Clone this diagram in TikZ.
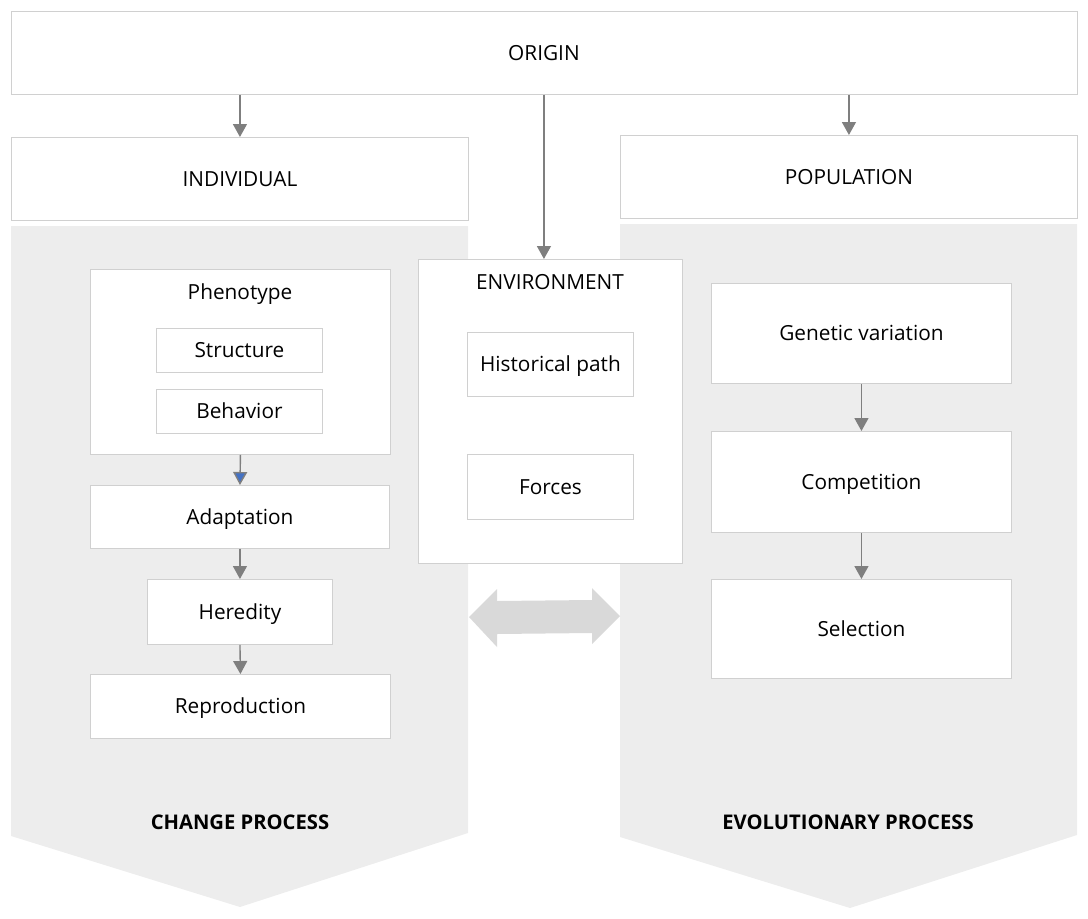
\documentclass[tikz,border=0pt]{standalone}
\usepackage{fontspec}
\setmainfont{Open Sans}
\usetikzlibrary{arrows.meta}
\definecolor{panelgray}{HTML}{EDEDED}
\definecolor{bordergray}{HTML}{D0D0D0}
\definecolor{arrowgray}{HTML}{7F7F7F}
\definecolor{dblgray}{HTML}{D9D9D9}
\definecolor{arrowblue}{HTML}{4472C4}
\tikzset{
  box/.style={draw=bordergray, fill=white, line width=0.9pt, inner sep=0pt, anchor=north west, text height=14.8pt, text depth=0pt, font=\fontsize{20.8}{24}\selectfont},
  txt/.style={inner sep=0pt, text height=14.8pt, text depth=0pt, font=\fontsize{20.8}{24}\selectfont},
  boldtxt/.style={inner sep=0pt, text height=14.4pt, text depth=0pt, font=\fontsize{20.2}{24}\selectfont\bfseries},
  arr/.style={draw=arrowgray, line width=1.4pt, -{Triangle[width=14pt,length=13pt]}},
  bluearr/.style={draw=arrowgray, line width=1.4pt, -{Triangle[width=14pt,length=13pt,fill=arrowblue]}},
  panel/.style={fill=panelgray, draw=none},
  dbl/.style={fill=dblgray, draw=none}
}
\begin{document}
\begin{tikzpicture}[x=1pt,y=-1pt]
\useasboundingbox (0,0) rectangle (1088,919);
% gray chevron panels
\fill[panel] (11,226) -- (468,226) -- (468,833) -- (240,907) -- (11,836) -- cycle;
\fill[panel] (620,224) -- (1077,224) -- (1077,835) -- (850,908) -- (620,837) -- cycle;
% top boxes
\node[box, minimum width=1066pt, minimum height=83pt] (origin) at (10.5,11) {ORIGIN};
\node[box, minimum width=457pt, minimum height=83pt] (indiv) at (11,137) {INDIVIDUAL};
\node[box, minimum width=457pt, minimum height=83pt] (popul) at (620,135) {POPULATION};
% environment
\node[box, minimum width=264pt, minimum height=304pt] (env) at (418,259) {};
\node[txt] (envt) at (550,282) {ENVIRONMENT};
\node[box, minimum width=166pt, minimum height=64pt] (hist) at (467,332) {Historical path};
\node[box, minimum width=166pt, minimum height=65pt] (forces) at (467,454) {Forces};
% left column
\node[box, minimum width=300pt, minimum height=185pt] (phen) at (90,269) {};
\node[txt] (phent) at (240,292) {Phenotype};
\node[box, minimum width=166pt, minimum height=44pt] (struct) at (156,328) {Structure};
\node[box, minimum width=166pt, minimum height=44pt] (behav) at (156,389) {Behavior};
\node[box, minimum width=299pt, minimum height=63pt] (adapt) at (90,485) {Adaptation};
\node[box, minimum width=185pt, minimum height=65pt] (hered) at (147,579) {Heredity};
\node[box, minimum width=300pt, minimum height=64pt] (repro) at (90,674) {Reproduction};
\node[boldtxt] (changep) at (240,822) {CHANGE PROCESS};
% right column
\node[box, minimum width=300pt, minimum height=100pt] (genvar) at (711,283) {Genetic variation};
\node[box, minimum width=300pt, minimum height=101pt] (comp) at (711,431) {Competition};
\node[box, minimum width=300pt, minimum height=99pt] (select) at (711,579) {Selection};
\node[boldtxt] (evolp) at (848,822) {EVOLUTIONARY PROCESS};
% double arrow
\fill[dbl] (469,617) -- (497,589) -- (497,601) -- (592,600) -- (592,588) -- (620,616) -- (592,644) -- (592,633) -- (497,634) -- (497,647) -- cycle;
% connectors
\draw[arr] (indiv.north |- origin.south) -- (indiv.north);
\draw[arr] (popul.north |- origin.south) -- (popul.north);
\draw[arr] (origin.south) -- (origin.south |- env.north);
\draw[bluearr] (phen.south) -- (adapt.north);
\draw[arr] (adapt.south) -- (hered.north);
\draw[arr] (hered.south) -- (repro.north);
\draw[arr] (genvar.south) -- (comp.north);
\draw[arr] (comp.south) -- (select.north);
\end{tikzpicture}
\end{document}
